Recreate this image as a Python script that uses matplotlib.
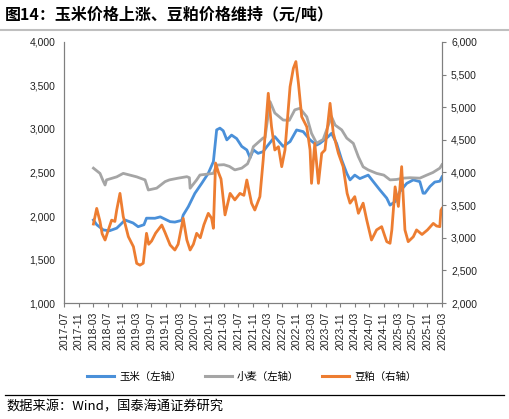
import matplotlib
matplotlib.use("Agg")
import matplotlib.pyplot as plt
from matplotlib.lines import Line2D

plt.rcParams['font.family'] = ['Liberation Sans', 'Noto Sans CJK SC', 'DejaVu Sans']

# x positions: months since 2017-07
tick_labels = ["2017-07", "2017-11", "2018-03", "2018-07", "2018-11", "2019-03", "2019-07",
               "2019-11", "2020-03", "2020-07", "2020-11", "2021-03", "2021-07", "2021-11",
               "2022-03", "2022-07", "2022-11", "2023-03", "2023-07", "2023-11", "2024-03",
               "2024-07", "2024-11", "2025-03", "2025-07", "2025-11", "2026-03"]

corn_m = [8.1, 9.0, 10.8, 12.5, 14.5, 15.5, 16.8, 19, 20.4, 22, 22.7, 25, 26.5, 29.2, 30.5,
          32.4, 32.8, 34.2, 36, 37.9, 39.7, 41.1, 42.0, 42.9, 43.8, 44.8, 46.1, 47.5, 48.9, 50.3,
          51.2, 52.1, 53.4, 54.8, 55.8, 58, 60.3, 62.2, 64.0, 65.8, 67.7, 69.5, 70.4, 72.7, 73.6,
          75, 76.4, 77.8, 78.7, 80, 81.4, 83.7, 85.1, 86.9, 88.8, 89.7, 91.1, 92.4, 94.3, 96.1,
          97.9, 98.8, 99.3, 100.7, 102, 103.4, 104]
corn_v = [1954, 1900, 1840, 1830, 1860, 1900, 1954, 1920, 1877, 1900, 1975, 1974, 1990, 1935,
          1930, 1950, 2011, 2107, 2260, 2376, 2491, 2625, 2990, 3010, 2980, 2875, 2930, 2890,
          2800, 2759, 2670, 2760, 2720, 2740, 2797, 2912, 2800, 2855, 2989, 2970, 2875, 2815,
          2835, 2912, 2950, 2835, 2645, 2490, 2415, 2470, 2430, 2470, 2395, 2300, 2205, 2125,
          2165, 2280, 2375, 2415, 2395, 2262, 2262, 2340, 2390, 2400, 2450]

wheat_m = [8.1, 9.9, 10.8, 11.3, 11.7, 14.5, 16.3, 20, 22.3, 23.2, 25.5, 27.8, 29, 31.4, 33.8,
           34.5, 34.7, 36.5, 37.4, 41.1, 42, 44, 45.5, 47, 48.9, 50.5, 51.2, 52.1, 54.8, 55.3,
           56.7, 58, 60.3, 62, 63.5, 64.9, 66.8, 68.1, 69.5, 71.3, 73.6, 74.6, 76.4, 77.8,
           79.6, 81, 82.3, 83.7, 86, 88, 89.7, 91.5, 93.3, 95.2, 97.9, 99.8, 101.5, 103.4, 104]
wheat_v = [2550, 2490, 2400, 2356, 2415, 2450, 2490, 2450, 2415, 2299, 2320, 2395, 2415, 2435,
           2452, 2440, 2319, 2415, 2471, 2490, 2585, 2590, 2570, 2530, 2550, 2600, 2670, 2797,
           2897, 2900, 3314, 3184, 3103, 3100, 3220, 3238, 3140, 2950, 2836, 2880, 3142, 3045,
           2990, 2895, 2835, 2680, 2565, 2530, 2490, 2470, 2415, 2420, 2435, 2440, 2435, 2470,
           2500, 2550, 2590]

meal_m = [8.1, 9.0, 9.9, 10.5, 11.3, 12.2, 13.1, 14.0, 14.5, 15.4, 16.3, 17.7, 19.1, 20.0, 20.9,
          21.8, 22.7, 23.3, 24.1, 25.2, 26.9, 27.8, 29.2, 30.5, 31.4, 32.8, 33.8, 34.7, 35.6,
          36.5, 37.5, 38.5, 39.7, 40.6, 41.1, 41.7, 42.5, 43.2, 44.3, 45.7, 47.0, 48.4, 49.5,
          50.3, 51.6, 52.5, 53.9, 54.8, 55.5, 56.2, 57.1, 58.0, 59.0, 59.9, 60.8, 62.2, 63.1,
          63.8, 64.5, 65.4, 66.8, 67.7, 68.1, 69.0, 70.0, 70.9, 71.8, 73.2, 74.1, 75.5, 76.8,
          77.9, 78.7, 80, 81, 82.3, 83.3, 84.6, 86, 87.4, 88.3, 88.8, 89.7, 90.2, 91.1, 92,
          92.9, 93.8, 94.7, 96.1, 97, 98.5, 100, 101.6, 102.5, 103.4, 103.7, 104]
meal_v = [3210, 3450, 3250, 3060, 2965, 3120, 3270, 3250, 3425, 3680, 3325, 3017, 2863, 2608,
          2580, 2610, 3068, 2900, 2950, 3070, 3195, 3080, 2889, 2812, 2900, 3298, 2966, 2812,
          2900, 3068, 3000, 3200, 3374, 3300, 3145, 4145, 4000, 3900, 3350, 3680, 3580, 3680,
          3650, 3885, 3530, 3425, 3630, 4190, 4700, 5214, 4700, 4345, 4395, 4089, 4345, 5315,
          5596, 5700, 5367, 4855, 4700, 4345, 3834, 4447, 3834, 4294, 4345, 5060, 4600, 4294,
          4089, 3680, 3530, 3630, 3375, 3530, 3270, 2965, 3120, 3170, 3020, 2940, 2915, 3120,
          3780, 3480, 4090, 3120, 2940, 3015, 3120, 3050, 3120, 3220, 3180, 3170, 3420, 3450]

series_labels = ["玉米（左轴）", "小麦（左轴）", "豆粕（右轴）"]
title = "图14：玉米价格上涨、豆粕价格维持（元/吨）"
source = "数据来源：Wind，国泰海通证券研究"

c_blue = "#4A90D9"
c_gray = "#A5A5A5"
c_orange = "#ED7D31"
cjk = ['Noto Sans CJK SC', 'DejaVu Sans']

fig = plt.figure(figsize=(5.09, 4.19), dpi=100)
ax = fig.add_axes([64/509, 1-303/419, (442-64)/509, (303-42)/419])
ax2 = ax.twinx()

ax.plot(corn_m, corn_v, color=c_blue, lw=2.0)
ax.plot(wheat_m, wheat_v, color=c_gray, lw=2.0)
ax2.plot(meal_m, meal_v, color=c_orange, lw=2.0)

ax.set_xlim(0, 104)
ax.set_ylim(1000, 4000)
ax2.set_ylim(2000, 6000)
ax.set_yticks(range(1000, 4001, 500))
ax2.set_yticks(range(2000, 6001, 500))
ax.set_yticklabels([f"{v:,}" for v in range(1000, 4001, 500)])
ax2.set_yticklabels([f"{v:,}" for v in range(2000, 6001, 500)])
ax.set_xticks(range(0, 105, 4))
ax.set_xticklabels(tick_labels, rotation=90)

for a in (ax, ax2):
    a.spines['top'].set_visible(False)
    for s in ('left', 'right', 'bottom'):
        a.spines[s].set_color('#7f7f7f')
        a.spines[s].set_linewidth(0.8)
ax.tick_params(axis='y', length=0, labelsize=7.5, pad=6, colors='#222222')
ax.tick_params(axis='x', length=3, direction='out', labelsize=7.5, colors='#7f7f7f',
               labelcolor='#222222', width=0.8)
ax2.tick_params(axis='y', length=3, direction='out', labelsize=7.5, colors='#7f7f7f',
                labelcolor='#222222', width=0.8)

handles = [Line2D([], [], color=c, lw=2.2) for c in (c_blue, c_gray, c_orange)]
leg = fig.legend(handles, series_labels, loc='center', bbox_to_anchor=(0.495, 1-377/419),
                 ncol=3, frameon=False, prop={'family': cjk, 'size': 7.5},
                 handlelength=2.6, columnspacing=2.2, handletextpad=0.5)

fig.text(0.01, 1-14/419, title, fontsize=11.5, fontweight='bold', family=cjk,
         va='center', ha='left')
fig.add_artist(Line2D([0, 1], [1-30/419, 1-30/419], color='#BFBFBF', lw=1.5,
                      transform=fig.transFigure))
fig.add_artist(Line2D([0.01, 0.99], [1-395/419, 1-395/419], color='black', lw=0.9,
                      transform=fig.transFigure))
fig.text(0.012, 1-407/419, source, fontsize=9.5, family=cjk, va='center', ha='left')

fig.savefig("out.png", dpi=100)
